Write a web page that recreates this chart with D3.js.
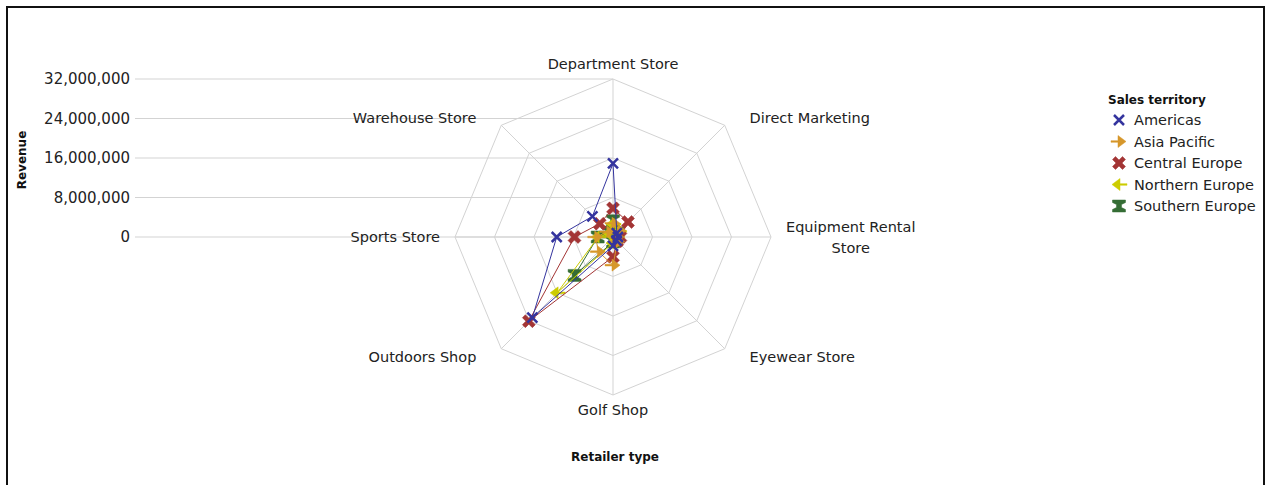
<!DOCTYPE html>
<html>
<head>
<meta charset="utf-8">
<script src="https://cdn.jsdelivr.net/npm/d3@7"></script>
<style>
    body { margin: 0; background: #fff; font-family: "DejaVu Sans", sans-serif; }
    .grid-line { stroke: #d3d3d3; stroke-width: 1; fill: none; }
    .cat-label { font-size: 14.5px; fill: #222; }
    .tick-label { font-size: 15px; fill: #222; }
    .axis-title { font-size: 12px; font-weight: bold; fill: #111; }
    .legend-text { font-size: 14.5px; fill: #222; }
</style>
</head>
<body>
<div id="chart"></div>
<script>

// Retailer types, clockwise from the top
const categories = ["Department Store", "Direct Marketing", "Equipment Rental Store", "Eyewear Store",
    "Golf Shop", "Outdoors Shop", "Sports Store", "Warehouse Store"];

// Revenue per sales territory, same order as categories
const americas       = [14900000, 1100000, 1000000, 1000000, 1800000, 23100000, 11400000, 5900000];
const asiaPacific    = [2800000, 1800000, 800000, 1300000, 5700000, 4200000, 3500000, 1500000];
const centralEurope  = [5800000, 4300000, 1500000, 1200000, 4000000, 24100000, 7800000, 3800000];
const northernEurope = [2600000, 1600000, 700000, 900000, 1200000, 16000000, 3000000, 1000000];
const southernEurope = [3300000, 1200000, 600000, 800000, 1000000, 11000000, 3100000, 1400000];

const territories = ["Americas", "Asia Pacific", "Central Europe", "Northern Europe", "Southern Europe"];
const territoryColors = ["#34349e", "#d6972b", "#a33535", "#cccc00", "#356d35"];

const revenueTicks = [0, 8000000, 16000000, 24000000, 32000000];


class radarVis {

    constructor(parentElement, seriesData) {
        this.parentElement = parentElement;
        this.seriesData = seriesData;

        this.initVis();
    }

    initVis() {

        let vis = this;

        vis.width = 1269;
        vis.height = 485;

        vis.svg = d3.select("#" + vis.parentElement).append("svg")
            .attr("width", vis.width)
            .attr("height", vis.height);

        // frame
        vis.svg.append("rect")
            .attr("x", 7)
            .attr("y", 7)
            .attr("width", 1257)
            .attr("height", 520)
            .attr("fill", "none")
            .attr("stroke", "#111")
            .attr("stroke-width", 2);

        vis.cx = 613;
        vis.cy = 237;
        vis.radius = 158;

        vis.r = d3.scaleLinear()
            .domain([0, 32000000])
            .range([0, vis.radius]);

        vis.y = d3.scaleLinear()
            .domain([0, 32000000])
            .range([vis.cy, vis.cy - vis.radius]);

        vis.step = 2 * Math.PI / categories.length;
        vis.angleOf = (i) => i * vis.step;

        // Horizontal revenue gridlines, from the axis to the top spoke
        vis.svg.selectAll(".h-grid")
            .data(revenueTicks)
            .enter()
            .append("line")
            .attr("class", "grid-line h-grid")
            .attr("x1", 135)
            .attr("x2", vis.cx)
            .attr("y1", d => vis.y(d))
            .attr("y2", d => vis.y(d));

        vis.yAxis = d3.axisLeft(vis.y)
            .tickValues(revenueTicks)
            .tickSize(0)
            .tickPadding(5)
            .tickFormat(d3.format(","));

        vis.axisG = vis.svg.append("g")
            .attr("transform", "translate(135, 0)")
            .call(vis.yAxis);
        vis.axisG.select(".domain").remove();
        vis.axisG.selectAll("text")
            .attr("class", "tick-label")
            .attr("font-family", "DejaVu Sans");

        // Octagon rings
        let ringLine = d3.lineRadial()
            .angle((d, i) => vis.angleOf(i))
            .radius(d => vis.r(d))
            .curve(d3.curveLinearClosed);

        vis.radar = vis.svg.append("g")
            .attr("transform", `translate(${vis.cx}, ${vis.cy})`);

        revenueTicks.slice(1).forEach(t => {
            vis.radar.append("path")
                .attr("class", "grid-line")
                .attr("d", ringLine(categories.map(() => t)));
        });

        // Spokes
        vis.radar.selectAll(".spoke")
            .data(categories)
            .enter()
            .append("line")
            .attr("class", "grid-line spoke")
            .attr("x1", 0)
            .attr("y1", 0)
            .attr("x2", (d, i) => vis.radius * Math.sin(vis.angleOf(i)))
            .attr("y2", (d, i) => -vis.radius * Math.cos(vis.angleOf(i)));

        // Category labels
        categories.forEach((c, i) => {
            let a = vis.angleOf(i);
            let s = Math.sin(a), co = Math.cos(a);
            let diag = Math.abs(s) > 0.01 && Math.abs(co) > 0.01;
            let lr = diag ? vis.radius + 14 : vis.radius + 15;
            let x = vis.cx + lr * s + (diag ? 15 * Math.sign(s) : 0);
            let y = vis.cy - (diag ? 169 : lr) * co;
            let anchor = Math.abs(s) < 0.01 ? "middle" : (s > 0 ? "start" : "end");

            let words = c.split(" ");
            if (c.length > 18) {
                // wrap into two centred lines
                let line1 = words.slice(0, -1).join(" ");
                let line2 = words[words.length - 1];
                let t1 = vis.svg.append("text")
                    .attr("class", "cat-label")
                    .attr("x", x)
                    .attr("y", y - 10.5)
                    .attr("dy", "0.35em")
                    .attr("text-anchor", "middle")
                    .text(line1);
                let w = t1.node().getComputedTextLength();
                let mid = anchor === "start" ? x + w / 2 : (anchor === "end" ? x - w / 2 : x);
                t1.attr("x", mid);
                vis.svg.append("text")
                    .attr("class", "cat-label")
                    .attr("x", mid)
                    .attr("y", y + 10.5)
                    .attr("dy", "0.35em")
                    .attr("text-anchor", "middle")
                    .text(line2);
            } else {
                vis.svg.append("text")
                    .attr("class", "cat-label")
                    .attr("x", x)
                    .attr("y", y)
                    .attr("dy", "0.35em")
                    .attr("text-anchor", anchor)
                    .text(c);
            }
        });

        // Axis titles
        vis.svg.append("text")
            .attr("class", "axis-title")
            .attr("text-anchor", "middle")
            .attr("transform", "translate(26, 160) rotate(-90)")
            .text("Revenue");

        vis.svg.append("text")
            .attr("class", "axis-title")
            .attr("text-anchor", "middle")
            .attr("x", 615)
            .attr("y", 461)
            .text("Retailer type");

        // Marker shapes
        vis.markers = [
            "M-5,-5L5,5M-5,5L5,-5",
            "M-8,-0.8L-1,-0.8L-1,-6L7,0L-1,6L-1,0.8L-8,0.8Z",
            "M-6.5,-3.5L-3.5,-6.5L0,-3L3.5,-6.5L6.5,-3.5L3,0L6.5,3.5L3.5,6.5L0,3L-3.5,6.5L-6.5,3.5L-3,0Z",
            "M8,-0.8L1,-0.8L1,-6L-7,0L1,6L1,0.8L8,0.8Z",
            "M-6.5,-6L6.5,-6L6.5,-3.5L2.5,-1.5L2.5,1.5L6.5,3.5L6.5,6L-6.5,6L-6.5,3.5L-2.5,1.5L-2.5,-1.5L-6.5,-3.5Z"
        ];

        // Legend
        vis.legend = vis.svg.append("g")
            .attr("transform", "translate(1108, 0)");

        vis.legend.append("text")
            .attr("class", "axis-title")
            .attr("x", 0)
            .attr("y", 104)
            .text("Sales territory");

        let items = vis.legend.selectAll(".legend-item")
            .data(territories)
            .enter()
            .append("g")
            .attr("class", "legend-item")
            .attr("transform", (d, i) => `translate(0, ${120 + i * 21.5})`);

        items.append("path")
            .attr("transform", "translate(11, 0)")
            .attr("d", (d, i) => vis.markers[i])
            .attr("fill", (d, i) => i === 0 ? "none" : territoryColors[i])
            .attr("stroke", (d, i) => territoryColors[i])
            .attr("stroke-width", (d, i) => i === 0 ? 2.5 : 0.5);

        items.append("text")
            .attr("class", "legend-text")
            .attr("x", 26)
            .attr("y", 0)
            .attr("dy", "0.35em")
            .text(d => d);

        this.updateVis();
    }

    updateVis() {

        let vis = this;

        let seriesLine = d3.lineRadial()
            .angle((d, i) => vis.angleOf(i))
            .radius(d => vis.r(d))
            .curve(d3.curveLinearClosed);

        // draw in reverse so Americas ends up on top
        let order = d3.range(vis.seriesData.length).reverse();

        order.forEach(k => {
            let g = vis.radar.append("g").attr("class", "series");
            let values = vis.seriesData[k];

            g.append("path")
                .attr("d", seriesLine(values))
                .attr("fill", "none")
                .attr("stroke", territoryColors[k])
                .attr("stroke-width", 1);

            g.selectAll(".marker")
                .data(values)
                .enter()
                .append("path")
                .attr("class", "marker")
                .attr("transform", (d, i) => `translate(${vis.r(d) * Math.sin(vis.angleOf(i))}, ${-vis.r(d) * Math.cos(vis.angleOf(i))})`)
                .attr("d", vis.markers[k])
                .attr("fill", k === 0 ? "none" : territoryColors[k])
                .attr("stroke", territoryColors[k])
                .attr("stroke-width", k === 0 ? 2.5 : 0.5);
        });
    }
}

let myRadar = new radarVis("chart", [americas, asiaPacific, centralEurope, northernEurope, southernEurope]);

</script>
</body>
</html>
